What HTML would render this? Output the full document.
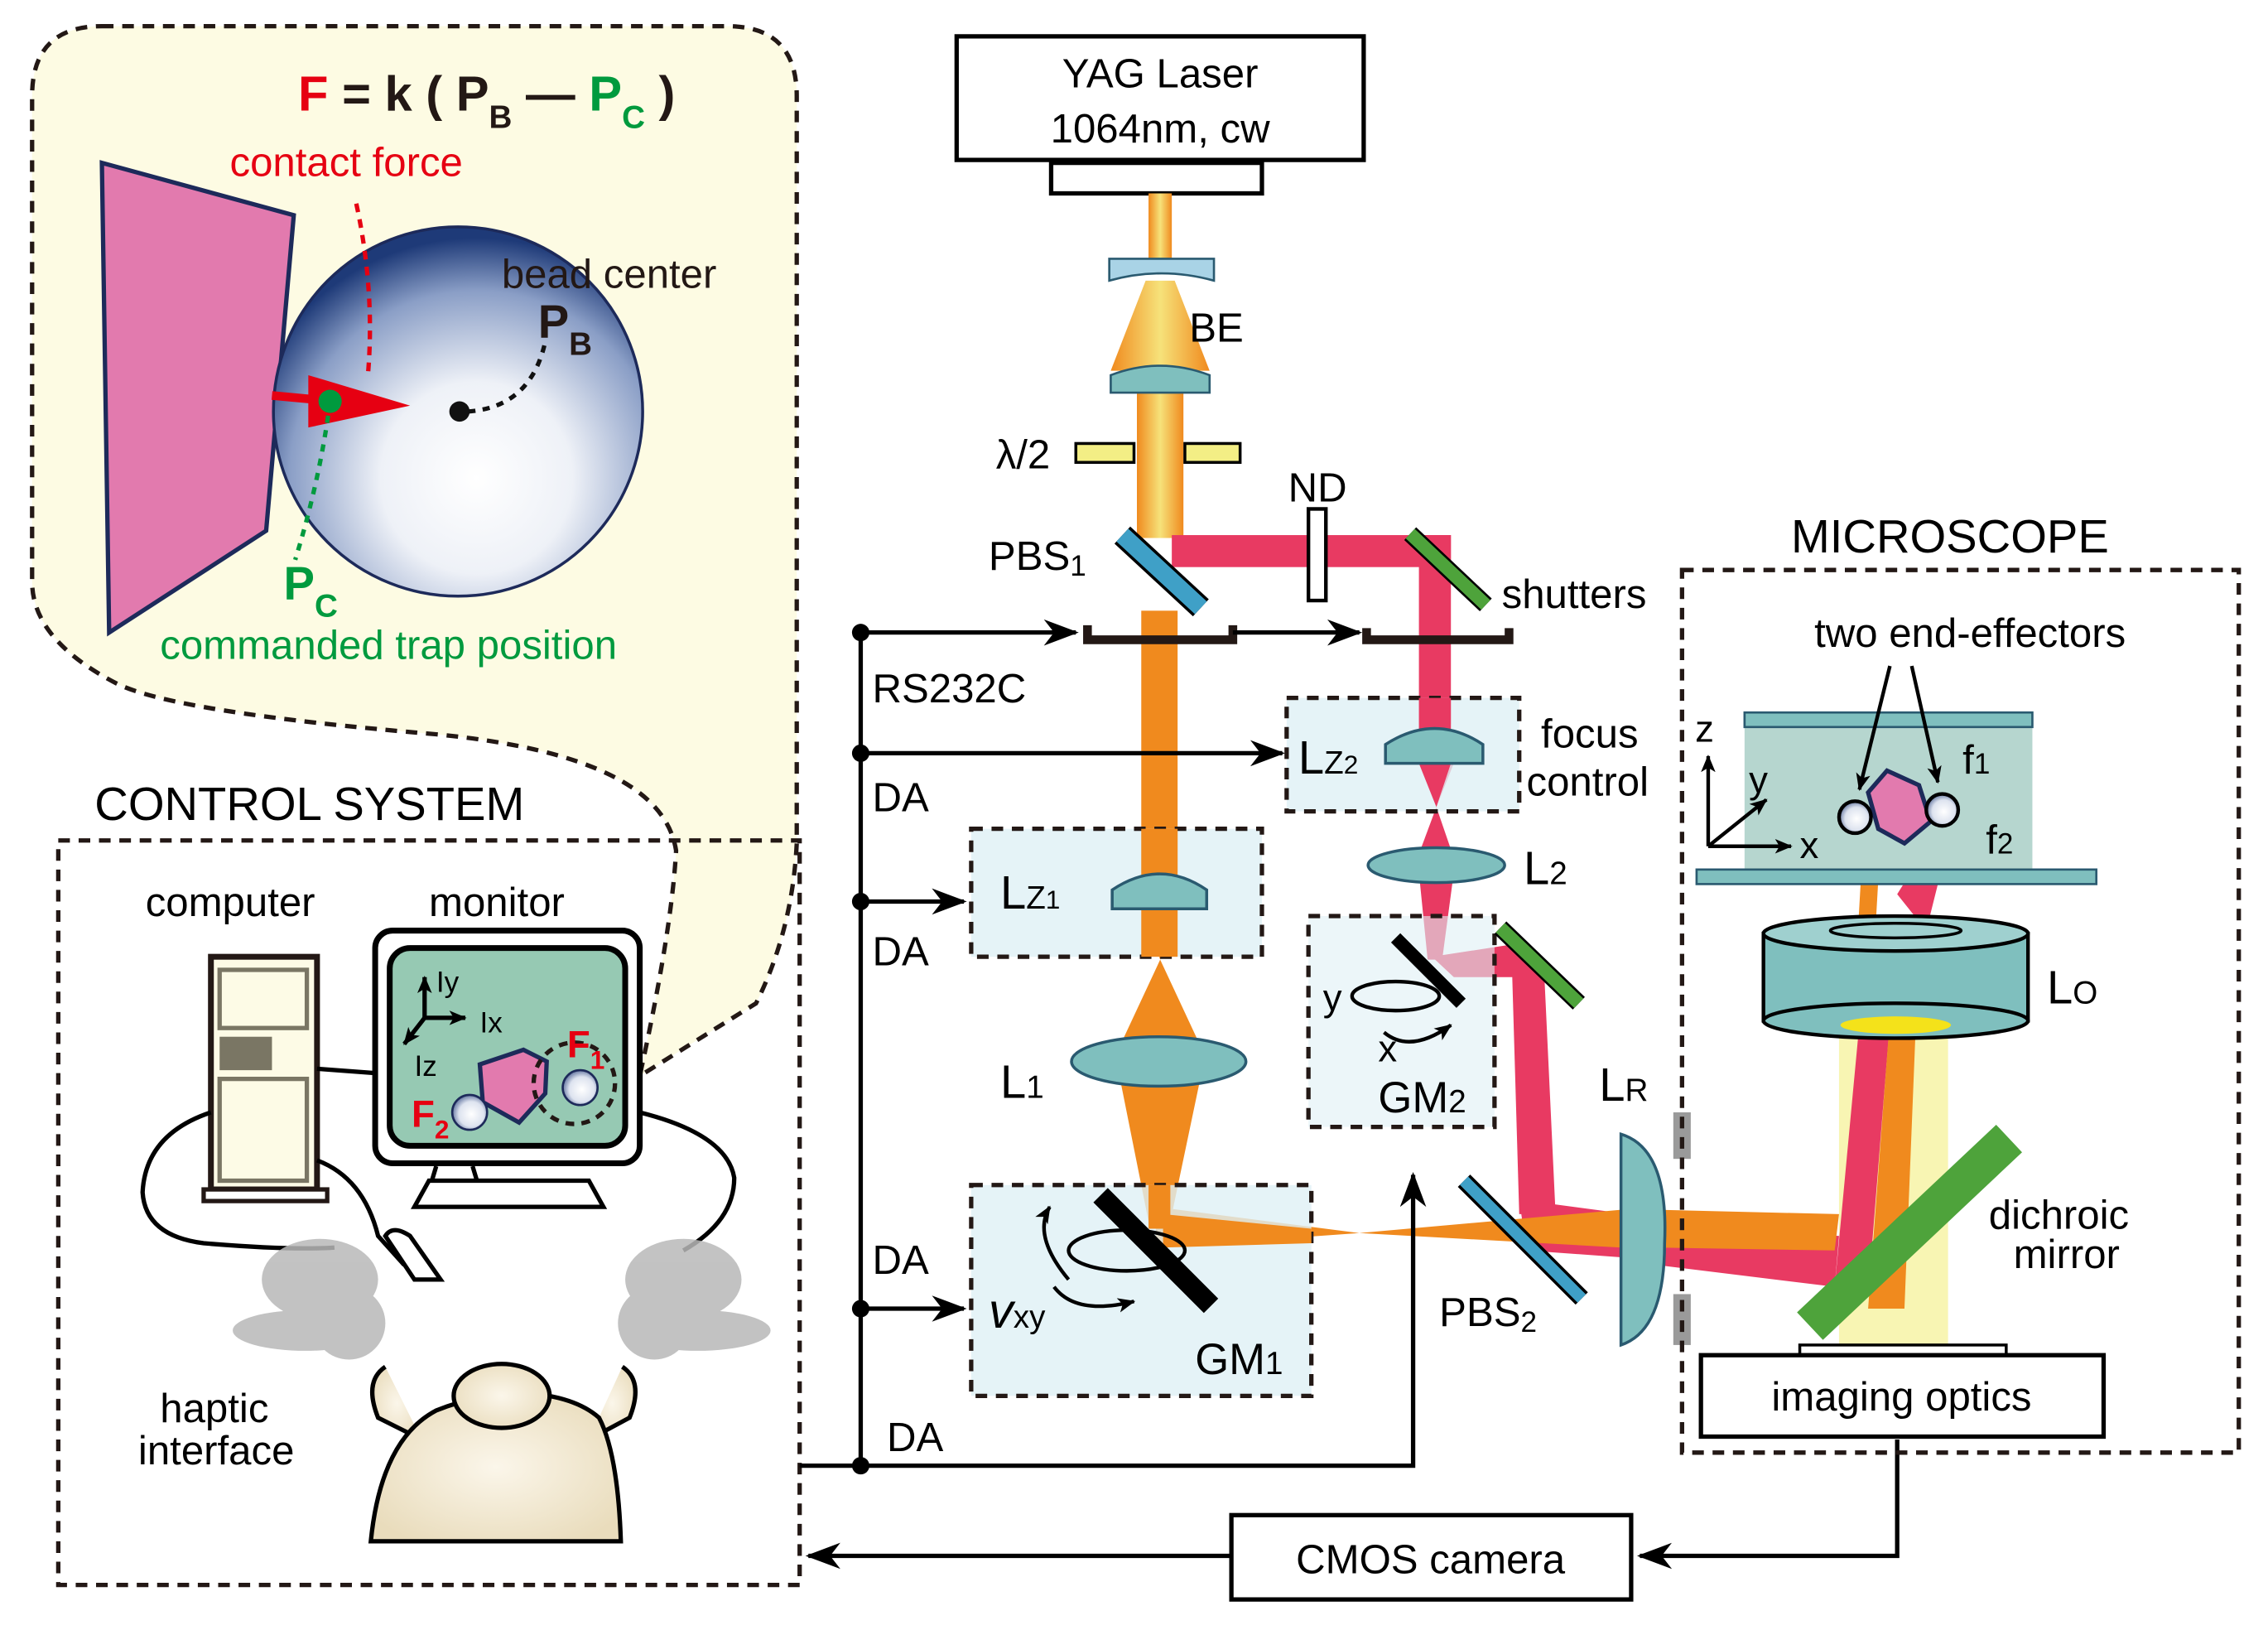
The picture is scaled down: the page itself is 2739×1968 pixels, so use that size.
<!DOCTYPE html>
<html><head><meta charset="utf-8"><style>
html,body{margin:0;padding:0;background:#fff}
svg{display:block}
text{font-family:"Liberation Sans",sans-serif}
</style></head><body>
<svg width="2739" height="1968" viewBox="0 0 1560 1121" xmlns="http://www.w3.org/2000/svg">
<defs>
<radialGradient id="bead" cx="0.55" cy="0.68" r="0.65">
<stop offset="0" stop-color="#ffffff"/><stop offset="0.4" stop-color="#eef1f7"/><stop offset="0.78" stop-color="#8a9ec6"/><stop offset="1" stop-color="#1e3a78"/>
</radialGradient>
<radialGradient id="bead2" cx="0.55" cy="0.55" r="0.6">
<stop offset="0" stop-color="#fff"/><stop offset="0.6" stop-color="#dde3ef"/><stop offset="1" stop-color="#4a5f90"/>
</radialGradient>
<linearGradient id="yb" x1="0" x2="1" y1="0" y2="0">
<stop offset="0" stop-color="#f08a1e"/><stop offset="0.5" stop-color="#f6e27a"/><stop offset="1" stop-color="#f08a1e"/>
</linearGradient>
<radialGradient id="skin" cx="0.5" cy="0.5" r="0.6"><stop offset="0" stop-color="#fbf6ea"/><stop offset="1" stop-color="#e9dcbc"/></radialGradient>
<marker id="ah" markerWidth="24" markerHeight="18" refX="22" refY="9" orient="auto" markerUnits="userSpaceOnUse" viewBox="0 0 24 18">
<path d="M0,0 L24,9 L0,18 L7,9 Z" fill="#000"/></marker>
<marker id="as" markerWidth="12" markerHeight="10" refX="11" refY="5" orient="auto" markerUnits="userSpaceOnUse" viewBox="0 0 12 10">
<path d="M0,0 L12,5 L0,10 L3,5 Z" fill="#000"/></marker>
</defs>

<path d="M70,18 H500 Q548,18 548,66 V580 Q545,640 520,690 L440,740 Q462,640 465,585 Q455,520 300,505 Q120,490 80,470 Q22,440 22,400 V66 Q22,18 70,18 Z" fill="#fdfbe3" stroke="#231815" stroke-width="3" stroke-dasharray="8,6"/>

<text x="205" y="76" font-size="34" font-weight="bold"><tspan fill="#e60012">F</tspan><tspan fill="#231815"> = k ( P</tspan><tspan font-size="22" dy="12" fill="#231815">B</tspan><tspan dy="-12" fill="#231815"> — </tspan><tspan fill="#009a3e">P</tspan><tspan font-size="22" dy="12" fill="#009a3e">C</tspan><tspan dy="-12" fill="#231815"> )</tspan></text>
<text x="158" y="121" font-size="28" fill="#e60012">contact force</text>

<polygon points="70,112 202,148 183,365 75,435" fill="#e27aae" stroke="#1d2a5a" stroke-width="3"/>
<circle cx="315" cy="283" r="127" fill="url(#bead)" stroke="#1d2a5a" stroke-width="2"/>
<path d="M245,140 Q258,200 253,258" fill="none" stroke="#e60012" stroke-width="3" stroke-dasharray="6,5"/>
<line x1="187" y1="272" x2="230" y2="276" stroke="#e60012" stroke-width="6"/>
<polygon points="212,258 282,279 212,294" fill="#e60012"/>
<circle cx="227" cy="276" r="8" fill="#009a3e"/>
<path d="M227,276 Q220,330 203,385" fill="none" stroke="#009a3e" stroke-width="3" stroke-dasharray="5,5"/>
<circle cx="316" cy="283" r="7" fill="#111"/>
<path d="M322,283 Q365,280 375,235" fill="none" stroke="#111" stroke-width="3" stroke-dasharray="5,5"/>
<text x="345" y="198" font-size="28" fill="#231815">bead center</text>
<text x="370" y="232" font-size="32" font-weight="bold" fill="#231815">P<tspan font-size="22" dy="12">B</tspan></text>
<text x="195" y="412" font-size="32" font-weight="bold" fill="#009a3e">P<tspan font-size="22" dy="12">C</tspan></text>
<text x="110" y="453" font-size="28" fill="#009a3e">commanded trap position</text>

<text x="65" y="564" font-size="32" fill="#000">CONTROL SYSTEM</text>
<rect x="40" y="578" width="510" height="512" fill="none" stroke="#231815" stroke-width="3" stroke-dasharray="8,6"/>
<text x="100" y="630" font-size="28">computer</text>
<text x="295" y="630" font-size="28">monitor</text>
<rect x="145" y="658" width="73" height="160" fill="#fdfbe6" stroke="#231815" stroke-width="4"/>
<rect x="151" y="667" width="60" height="40" fill="none" stroke="#7a7664" stroke-width="3"/>
<rect x="151" y="713" width="36" height="23" fill="#7a7664"/>
<rect x="151" y="742" width="60" height="70" fill="none" stroke="#7a7664" stroke-width="3"/>
<rect x="140" y="818" width="85" height="8" fill="#fff" stroke="#231815" stroke-width="3"/>
<path d="M218,735 L258,738" stroke="#000" stroke-width="3"/>
<path d="M145,765 Q100,780 98,820 Q100,850 140,855 Q200,860 230,858" fill="none" stroke="#000" stroke-width="3"/>
<path d="M218,798 Q250,810 260,850 L278,870" fill="none" stroke="#000" stroke-width="3"/>
<path d="M265,850 L285,880 L303,880 L282,850 Q270,842 265,850 Z" fill="#fff" stroke="#000" stroke-width="3"/>
<path d="M440,765 Q500,780 505,810 Q505,840 470,860" fill="none" stroke="#000" stroke-width="3"/>
<rect x="258" y="640" width="182" height="160" rx="12" fill="#fff" stroke="#000" stroke-width="4"/>
<rect x="268" y="652" width="162" height="136" rx="14" fill="#96c9b3" stroke="#000" stroke-width="4"/>
<path d="M300,802 L297,812 M325,802 L328,812" stroke="#000" stroke-width="3"/>
<polygon points="295,812 405,812 415,830 285,830" fill="#fff" stroke="#000" stroke-width="3"/>
<line x1="292" y1="700" x2="292" y2="672" stroke="#000" stroke-width="3" marker-end="url(#as)"/>
<line x1="292" y1="700" x2="320" y2="700" stroke="#000" stroke-width="3" marker-end="url(#as)"/>
<line x1="292" y1="700" x2="278" y2="718" stroke="#000" stroke-width="3" marker-end="url(#as)"/>
<text x="300" y="682" font-size="20">Iy</text><text x="330" y="710" font-size="20">Ix</text><text x="285" y="740" font-size="20">Iz</text>
<polygon points="330,732 360,722 376,730 375,752 357,772 332,758" fill="#e27aae" stroke="#1d2a5a" stroke-width="3"/>
<circle cx="323" cy="765" r="12" fill="url(#bead2)" stroke="#1d2a5a" stroke-width="1.5"/>
<circle cx="399" cy="748" r="12" fill="url(#bead2)" stroke="#1d2a5a" stroke-width="1.5"/>
<ellipse cx="395" cy="745" rx="28" ry="28" fill="none" stroke="#231815" stroke-width="3" stroke-dasharray="6,5"/>
<text x="390" y="727" font-size="26" font-weight="bold" fill="#e60012">F<tspan font-size="18" dy="8">1</tspan></text>
<text x="283" y="775" font-size="26" font-weight="bold" fill="#e60012">F<tspan font-size="18" dy="8">2</tspan></text>
<g fill="#b8b8b8" opacity="0.85">
<ellipse cx="220" cy="880" rx="40" ry="28"/><ellipse cx="210" cy="915" rx="50" ry="14"/><ellipse cx="240" cy="910" rx="25" ry="25"/>
<ellipse cx="470" cy="880" rx="40" ry="28"/><ellipse cx="480" cy="915" rx="50" ry="14"/><ellipse cx="450" cy="910" rx="25" ry="25"/>
</g>
<path d="M265,940 Q250,950 260,975 L290,990" fill="url(#skin)" stroke="#000" stroke-width="3"/>
<path d="M428,940 Q443,950 433,975 L405,990" fill="url(#skin)" stroke="#000" stroke-width="3"/>
<path d="M255,1060 Q262,990 300,970 Q330,958 360,958 Q395,960 412,975 Q425,1000 427,1060 Z" fill="url(#skin)" stroke="#000" stroke-width="3"/>
<ellipse cx="345" cy="960" rx="33" ry="22" fill="url(#skin)" stroke="#000" stroke-width="3"/>
<text x="110" y="978" font-size="28">haptic</text>
<text x="95" y="1007" font-size="28">interface</text>

<rect x="658" y="25" width="280" height="85" fill="#fff" stroke="#000" stroke-width="3"/>
<text x="798" y="60" font-size="28" text-anchor="middle">YAG Laser</text>
<text x="798" y="98" font-size="28" text-anchor="middle">1064nm, cw</text>
<rect x="723" y="112" width="145" height="21" fill="#fff" stroke="#000" stroke-width="3"/>
<rect x="790" y="133" width="16" height="45" fill="url(#yb)"/>
<polygon points="788,193 808,193 832,255 764,255" fill="url(#yb)"/>
<rect x="782" y="255" width="32" height="115" fill="url(#yb)"/>
<path d="M763,178 L835,178 L835,193 Q799,183 763,193 Z" fill="#a9d3e6" stroke="#2a5a70" stroke-width="1.5"/>
<text x="818" y="235" font-size="28">BE</text>
<path d="M764,270 L832,270 L832,258 Q798,245 764,258 Z" fill="#7fbfbe" stroke="#2a5a70" stroke-width="1.5"/>
<rect x="740" y="305" width="40" height="13" fill="#f3ee85" stroke="#000" stroke-width="2"/>
<rect x="815" y="305" width="38" height="13" fill="#f3ee85" stroke="#000" stroke-width="2"/>
<text x="685" y="322" font-size="28">λ/2</text>

<rect x="1265" y="705" width="75" height="222" fill="#f6f3a0" opacity="0.8"/>
<g fill="#e83a62">
<rect x="806" y="368" width="192" height="22"/>
<rect x="976" y="368" width="22" height="130"/>
<polygon points="980,525 1000,525 988,555"/>
<polygon points="988,555 975,590 1000,590"/>
<polygon points="976,600 1000,600 992,660 982,660"/>
<polygon points="985,658 1050,648 1058,672 1000,672"/>
<polygon points="1040,665 1062,665 1070,835 1045,835"/>
<polygon points="1045,825 1120,835 1120,865 1050,860"/>
<polygon points="1140,840 1265,850 1262,885 1140,870"/>
<polygon points="1262,885 1285,640 1305,640 1285,890"/>
<polygon points="1305,615 1330,575 1340,580 1325,640"/>
</g>
<g fill="#f08a1e">
<rect x="785" y="420" width="25" height="180"/>
<polygon points="785,625 810,625 798,660"/>
<polygon points="798,660 770,720 826,720"/>
<polygon points="770,740 826,740 805,840 790,840"/>
<polygon points="795,830 935,848 1115,832 1115,858 935,848 795,858"/>
<polygon points="1140,832 1265,835 1262,860 1140,858"/>
<polygon points="1300,700 1318,700 1310,900 1285,900"/>
<polygon points="1280,605 1292,605 1290,640 1278,640"/>
</g>

<line x1="772" y1="368" x2="826" y2="418" stroke="#000" stroke-width="16"/>
<line x1="772" y1="368" x2="826" y2="418" stroke="#3fa0c7" stroke-width="12"/>
<text x="680" y="392" font-size="28">PBS<tspan font-size="20" dy="4">1</tspan></text>
<rect x="900" y="350" width="12" height="63" fill="#fff" stroke="#000" stroke-width="2.5"/>
<text x="886" y="345" font-size="28">ND</text>
<line x1="970" y1="367" x2="1022" y2="416" stroke="#000" stroke-width="12"/>
<line x1="970" y1="367" x2="1022" y2="416" stroke="#4ea33b" stroke-width="9"/>
<text x="1033" y="418" font-size="28">shutters</text>
<path d="M748,430 V440 H848 V430" fill="none" stroke="#231815" stroke-width="6"/>
<path d="M940,432 V440 H1038 V432" fill="none" stroke="#231815" stroke-width="6"/>

<g stroke="#000" stroke-width="3" fill="none">
<line x1="592" y1="435" x2="740" y2="435" marker-end="url(#ah)"/>
<line x1="592" y1="435" x2="592" y2="1008"/>
<line x1="848" y1="435" x2="935" y2="435" marker-end="url(#ah)"/>
<line x1="592" y1="518" x2="882" y2="518" marker-end="url(#ah)"/>
<line x1="592" y1="620" x2="663" y2="620" marker-end="url(#ah)"/>
<line x1="592" y1="900" x2="663" y2="900" marker-end="url(#ah)"/>
<polyline points="550,1008 972,1008 972,808" marker-end="url(#ah)"/>
<polyline points="1305,990 1305,1070 1128,1070" marker-end="url(#ah)"/>
<line x1="847" y1="1070" x2="556" y2="1070" marker-end="url(#ah)"/>
</g>
<g fill="#000"><circle cx="592" cy="435" r="6"/><circle cx="592" cy="518" r="6"/><circle cx="592" cy="620" r="6"/><circle cx="592" cy="900" r="6"/><circle cx="592" cy="1008" r="6"/></g>
<text x="600" y="483" font-size="28">RS232C</text>
<text x="600" y="558" font-size="28">DA</text>
<text x="600" y="664" font-size="28">DA</text>
<text x="600" y="876" font-size="28">DA</text>
<text x="610" y="998" font-size="28">DA</text>

<rect x="668" y="570" width="200" height="88" fill="#dff0f5" fill-opacity="0.8" stroke="#231815" stroke-width="3" stroke-dasharray="8,6"/>
<rect x="785" y="570" width="25" height="88" fill="#f08a1e"/>
<polygon points="785,625 810,625 798,658" fill="#f08a1e"/>
<path d="M765,625 L830,625 L830,612 Q798,590 765,612 Z" fill="#7fbfbe" stroke="#2a5a70" stroke-width="2"/>
<text x="688" y="625" font-size="32">L<tspan font-size="22">Z</tspan><tspan font-size="18">1</tspan></text>
<rect x="885" y="480" width="160" height="78" fill="#dff0f5" fill-opacity="0.8" stroke="#231815" stroke-width="3" stroke-dasharray="8,6"/>
<rect x="976" y="480" width="22" height="45" fill="#e83a62"/>
<polygon points="976,525 998,525 988,555" fill="#e83a62"/>
<path d="M953,525 L1020,525 L1020,512 Q987,490 953,512 Z" fill="#7fbfbe" stroke="#2a5a70" stroke-width="2"/>
<text x="893" y="532" font-size="32">L<tspan font-size="22">Z</tspan><tspan font-size="18">2</tspan></text>
<text x="1060" y="514" font-size="28">focus</text>
<text x="1050" y="547" font-size="28">control</text>
<ellipse cx="988" cy="595" rx="47" ry="12" fill="#7fbfbe" stroke="#2a5a70" stroke-width="2"/>
<text x="1048" y="608" font-size="32">L<tspan font-size="22">2</tspan></text>
<ellipse cx="797" cy="730" rx="60" ry="17" fill="#7fbfbe" stroke="#2a5a70" stroke-width="2"/>
<text x="688" y="755" font-size="32">L<tspan font-size="22">1</tspan></text>

<rect x="900" y="630" width="128" height="145" fill="#dff0f5" fill-opacity="0.6" stroke="#231815" stroke-width="3" stroke-dasharray="8,6"/>
<line x1="960" y1="645" x2="1005" y2="690" stroke="#000" stroke-width="9"/>
<ellipse cx="960" cy="685" rx="30" ry="10" fill="none" stroke="#000" stroke-width="2.5"/>
<path d="M952,710 Q970,725 998,705" fill="none" stroke="#000" stroke-width="2.5" marker-end="url(#as)"/>
<text x="910" y="695" font-size="26">y</text>
<text x="948" y="730" font-size="26">x</text>
<text x="948" y="765" font-size="30">GM<tspan font-size="22">2</tspan></text>
<line x1="1032" y1="638" x2="1086" y2="690" stroke="#000" stroke-width="12"/>
<line x1="1032" y1="638" x2="1086" y2="690" stroke="#4ea33b" stroke-width="9"/>

<rect x="668" y="815" width="234" height="145" fill="#dff0f5" fill-opacity="0.8" stroke="#231815" stroke-width="3" stroke-dasharray="8,6"/>
<polygon points="790,815 805,815 805,845 790,845" fill="#f08a1e"/>
<polygon points="800,835 902,845 902,855 800,858" fill="#f08a1e"/>
<line x1="757" y1="822" x2="833" y2="898" stroke="#000" stroke-width="14"/>
<ellipse cx="775" cy="860" rx="40" ry="14" fill="none" stroke="#000" stroke-width="2.5"/>
<path d="M735,880 Q710,850 722,830" fill="none" stroke="#000" stroke-width="2.5" marker-end="url(#as)"/>
<path d="M725,885 Q740,905 780,895" fill="none" stroke="#000" stroke-width="2.5" marker-end="url(#as)"/>
<text x="680" y="913" font-size="34" font-style="italic" font-family="Liberation Serif, serif">v<tspan font-size="22" font-style="normal" font-family="Liberation Sans, sans-serif">xy</tspan></text>
<text x="822" y="945" font-size="30">GM<tspan font-size="22">1</tspan></text>

<line x1="1007" y1="812" x2="1088" y2="893" stroke="#000" stroke-width="12"/>
<line x1="1007" y1="812" x2="1088" y2="893" stroke="#3fa0c7" stroke-width="8"/>
<text x="990" y="912" font-size="28">PBS<tspan font-size="20" dy="4">2</tspan></text>
<path d="M1115,780 Q1148,790 1145,855 Q1145,915 1115,925 Z" fill="#7fbfbe" stroke="#2a5a70" stroke-width="2"/>
<text x="1100" y="757" font-size="32">L<tspan font-size="22">R</tspan></text>
<rect x="1151" y="765" width="12" height="32" fill="#9a9a9a"/>
<rect x="1151" y="890" width="12" height="35" fill="#9a9a9a"/>

<text x="1232" y="380" font-size="32">MICROSCOPE</text>
<rect x="1157" y="392" width="383" height="607" fill="none" stroke="#231815" stroke-width="3" stroke-dasharray="8,6"/>
<text x="1248" y="445" font-size="28">two end-effectors</text>
<rect x="1200" y="500" width="198" height="98" fill="#b6d6cf"/>
<rect x="1200" y="490" width="198" height="10" fill="#7fbfbe" stroke="#2a5a70" stroke-width="1.5"/>
<rect x="1167" y="598" width="275" height="10" fill="#7fbfbe" stroke="#2a5a70" stroke-width="1.5"/>
<polygon points="1285,545 1298,530 1320,540 1328,565 1310,580 1292,570" fill="#e27aae" stroke="#1d2a5a" stroke-width="3"/>
<circle cx="1276" cy="562" r="11" fill="url(#bead2)" stroke="#000" stroke-width="2.5"/>
<circle cx="1336" cy="557" r="11" fill="url(#bead2)" stroke="#000" stroke-width="2.5"/>
<line x1="1300" y1="458" x2="1279" y2="543" stroke="#000" stroke-width="2.5" marker-end="url(#as)"/>
<line x1="1315" y1="458" x2="1333" y2="538" stroke="#000" stroke-width="2.5" marker-end="url(#as)"/>
<text x="1350" y="532" font-size="28">f<tspan font-size="20">1</tspan></text>
<text x="1366" y="587" font-size="28">f<tspan font-size="20">2</tspan></text>
<line x1="1175" y1="582" x2="1175" y2="520" stroke="#000" stroke-width="2.5" marker-end="url(#as)"/>
<line x1="1175" y1="582" x2="1232" y2="582" stroke="#000" stroke-width="2.5" marker-end="url(#as)"/>
<line x1="1175" y1="582" x2="1215" y2="550" stroke="#000" stroke-width="2.5" marker-end="url(#as)"/>
<text x="1166" y="510" font-size="26">z</text>
<text x="1203" y="545" font-size="26">y</text>
<text x="1238" y="590" font-size="26">x</text>
<rect x="1213" y="642" width="182" height="60" fill="#7fbfbe" stroke="#000" stroke-width="2.5"/>
<ellipse cx="1304" cy="702" rx="91" ry="12" fill="#7fbfbe" stroke="#000" stroke-width="2.5"/>
<ellipse cx="1304" cy="642" rx="91" ry="12" fill="#9fd0cf" stroke="#000" stroke-width="2.5"/>
<ellipse cx="1304" cy="640" rx="45" ry="5" fill="none" stroke="#000" stroke-width="2"/>
<ellipse cx="1304" cy="705" rx="38" ry="6" fill="#f4e21a"/>
<text x="1408" y="690" font-size="32">L<tspan font-size="22">O</tspan></text>
<line x1="1245" y1="912" x2="1382" y2="783" stroke="#4ea33b" stroke-width="26"/>
<text x="1368" y="845" font-size="28">dichroic</text>
<text x="1385" y="872" font-size="28">mirror</text>
<rect x="1238" y="925" width="142" height="7" fill="#fff" stroke="#000" stroke-width="2"/>
<rect x="1170" y="932" width="277" height="56" fill="#fff" stroke="#000" stroke-width="3"/>
<text x="1308" y="970" font-size="28" text-anchor="middle">imaging optics</text>
<rect x="847" y="1042" width="275" height="58" fill="#fff" stroke="#000" stroke-width="3"/>
<text x="984" y="1082" font-size="28" text-anchor="middle">CMOS camera</text>
</svg>
</body></html>
